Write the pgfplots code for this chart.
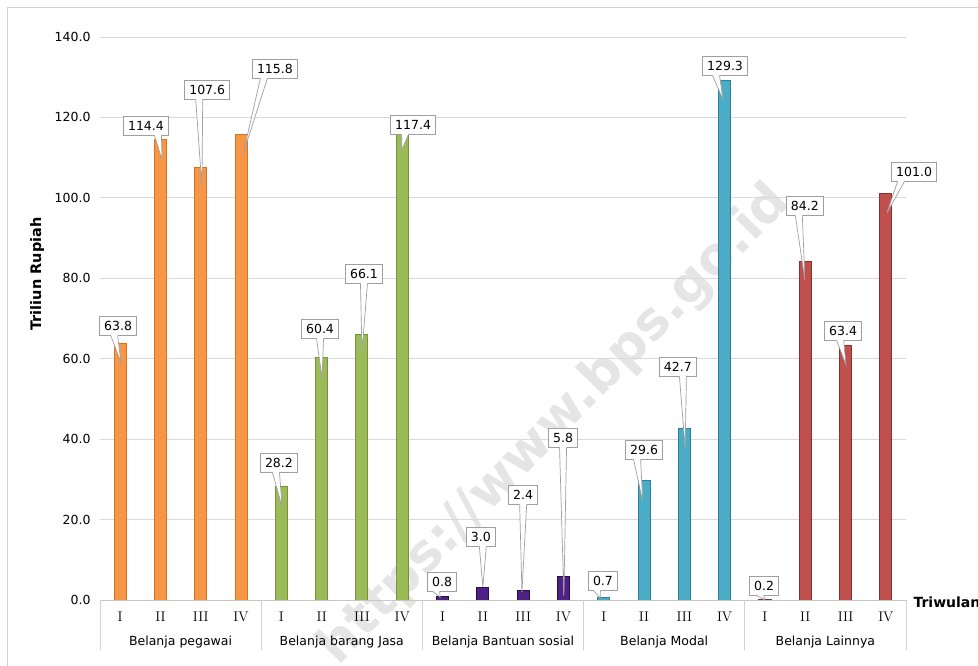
\documentclass[border=0pt]{standalone}
\usepackage{fontspec}
\setsansfont{DejaVu Sans}
\usepackage{pgfplots}
\pgfplotsset{compat=1.18}
\usetikzlibrary{calc}
\definecolor{orF}{HTML}{F79646}\definecolor{orD}{HTML}{D9731E}
\definecolor{grF}{HTML}{9BBB59}\definecolor{grD}{HTML}{76923C}
\definecolor{puF}{HTML}{4F2187}\definecolor{puD}{HTML}{24103F}
\definecolor{blF}{HTML}{4BACC6}\definecolor{blD}{HTML}{2C7F96}
\definecolor{reF}{HTML}{C0504D}\definecolor{reD}{HTML}{8E2F2D}
\tikzset{callbox/.style={draw=gray!75, fill=white, line width=0.8bp,
  font=\sffamily\fontsize{12.5bp}{14bp}\selectfont, inner xsep=4.5bp, inner ysep=0pt,
  minimum height=19bp, text height=9.5bp, text depth=0bp}}
\newcommand\callout[6]{%
 \node[callbox] (cb) at (axis cs:#1,#2) {#6};
 \fill[white] ($(cb.south)+(#5bp-3.5bp,0.9bp)$) -- (axis cs:#3,#4) -- ($(cb.south)+(#5bp+3.5bp,0.9bp)$) -- cycle;
 \draw[gray!75,line width=0.7bp] ($(cb.south)+(#5bp-3.5bp,0.35bp)$) -- (axis cs:#3,#4) -- ($(cb.south)+(#5bp+3.5bp,0.35bp)$);
}
\begin{document}
\begin{tikzpicture}
\useasboundingbox (0,0) rectangle (978bp,-666bp);
\fill[white] (0,0) rectangle (978bp,-666bp);
\draw[gray!35, line width=0.8bp] (7.5bp,-720bp) -- (7.5bp,-7.5bp) -- (1000bp,-7.5bp);
\node[rotate=45.6, text=black!10, font=\sffamily\bfseries\fontsize{52bp}{58bp}\selectfont] at (555bp,-425bp) {https://www.bps.go.id};
\begin{axis}[
  at={(100bp,-600bp)}, anchor=south west,
  width=806bp, height=563bp, scale only axis,
  xmin=-0.5, xmax=19.5, ymin=0, ymax=140,
  axis line style={draw=none},
  ymajorgrids, grid style={gray!30, line width=0.8bp},
  ytick={0,20,...,140},
  yticklabel style={font=\sffamily\fontsize{12.5bp}{14bp}\selectfont, xshift=-6bp,
    /pgf/number format/.cd, fixed, fixed zerofill, precision=1, assume math mode=true},
  xtick={0,...,19},
  xticklabels={I,II,III,IV,I,II,III,IV,I,II,III,IV,I,II,III,IV,I,II,III,IV},
  xticklabel style={font=\rmfamily\fontsize{14bp}{16bp}\selectfont, anchor=center, yshift=-17bp},
  major tick length=0pt,
  clip=false,
  bar width=0.3,
  ylabel={Triliun Rupiah},
  ylabel style={font=\sffamily\bfseries\fontsize{14.5bp}{16bp}\selectfont, at={(axis description cs:-0.078,0.579)}, anchor=center},
]
\addplot[ybar, bar shift=0pt, fill=orF, draw=orD, line width=1bp] coordinates {(0,63.8) (1,114.4) (2,107.6) (3,115.8)};
\addplot[ybar, bar shift=0pt, fill=grF, draw=grD, line width=1bp] coordinates {(4,28.2) (5,60.4) (6,66.1) (7,117.4)};
\addplot[ybar, bar shift=0pt, fill=puF, draw=puD, line width=1bp] coordinates {(8,0.8) (9,3.0) (10,2.4) (11,5.8)};
\addplot[ybar, bar shift=0pt, fill=blF, draw=blD, line width=1bp] coordinates {(12,0.7) (13,29.6) (14,42.7) (15,129.3)};
\addplot[ybar, bar shift=0pt, fill=reF, draw=reD, line width=1bp] coordinates {(16,0.2) (17,84.2) (18,63.4) (19,101.0)};
% axis line and group separators
\draw[gray!45, line width=0.8bp] (axis cs:-0.5,0) -- (axis cs:19.5,0);
\draw[gray!35, line width=0.8bp] (axis cs:-0.5,0) -- (axis cs:-0.5,-12.4);
\draw[gray!35, line width=0.8bp] (axis cs:3.5,0) -- (axis cs:3.5,-12.4);
\draw[gray!35, line width=0.8bp] (axis cs:7.5,0) -- (axis cs:7.5,-12.4);
\draw[gray!35, line width=0.8bp] (axis cs:11.5,0) -- (axis cs:11.5,-12.4);
\draw[gray!35, line width=0.8bp] (axis cs:15.5,0) -- (axis cs:15.5,-12.4);
\draw[gray!35, line width=0.8bp] (axis cs:19.5,0) -- (axis cs:19.5,-12.4);
\node[font=\sffamily\fontsize{12.5bp}{14bp}\selectfont] at (axis cs:1.5,-10.45) {Belanja pegawai};
\node[font=\sffamily\fontsize{12.5bp}{14bp}\selectfont] at (axis cs:5.5,-10.45) {Belanja barang Jasa};
\node[font=\sffamily\fontsize{12.5bp}{14bp}\selectfont] at (axis cs:9.5,-10.45) {Belanja Bantuan sosial};
\node[font=\sffamily\fontsize{12.5bp}{14bp}\selectfont] at (axis cs:13.5,-10.45) {Belanja Modal};
\node[font=\sffamily\fontsize{12.5bp}{14bp}\selectfont] at (axis cs:17.5,-10.45) {Belanja Lainnya};
\node[font=\sffamily\bfseries\fontsize{14bp}{16bp}\selectfont, anchor=west] at (axis cs:19.5,-0.5) {\hspace{4bp}Triwulan};
% callouts
\callout{-0.05}{68.2}{0.02}{59.0}{-4}{63.8}
\callout{0.64}{117.9}{1.04}{109.5}{12}{114.4}
\callout{2.16}{126.9}{2.03}{102.7}{-8}{107.6}
\callout{3.84}{132.1}{3.05}{110.9}{-11}{115.8}
\callout{3.94}{34.1}{4.02}{23.1}{-3}{28.2}
\callout{4.96}{67.4}{5.01}{55.2}{0}{60.4}
\callout{6.05}{81.1}{6.0}{61.7}{0}{66.1}
\callout{7.27}{118.2}{6.99}{111.9}{-8}{117.4}
\callout{7.99}{4.5}{7.94}{0.7}{-6}{0.8}
\callout{8.95}{15.7}{9.0}{3.2}{2}{3.0}
\callout{10.0}{26.1}{9.97}{2.0}{0}{2.4}
\callout{10.99}{40.3}{11.01}{1.0}{0}{5.8}
\callout{11.98}{4.7}{11.91}{0.5}{-6}{0.7}
\callout{13.0}{37.3}{12.97}{24.4}{-7}{29.6}
\callout{13.84}{58.0}{14.02}{37.8}{5}{42.7}
\callout{15.01}{132.8}{14.96}{124.4}{-9}{129.3}
\callout{15.98}{3.5}{16.0}{0}{-4}{0.2}
\callout{16.99}{98.0}{16.99}{79.6}{-6}{84.2}
\callout{17.94}{66.9}{18.01}{58.5}{-3}{63.4}
\callout{19.70}{106.5}{19.03}{96.3}{-13}{101.0}
\end{axis}
\end{tikzpicture}
\end{document}
